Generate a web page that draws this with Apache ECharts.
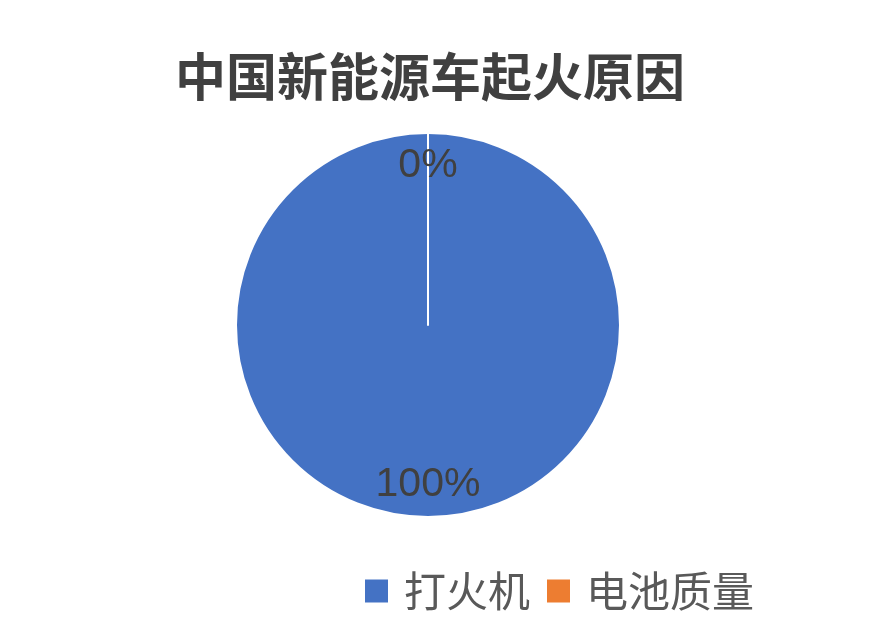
<!DOCTYPE html>
<html>
<head>
<meta charset="utf-8">
<script src="https://cdn.jsdelivr.net/npm/echarts@6/dist/echarts.min.js"></script>
<style>
html,body{margin:0;padding:0;background:#fff;}
#chart{width:872px;height:640px;}
</style>
</head>
<body>
<div id="chart"></div>
<script>
const titleText = '中国新能源车起火原因';
const categories = ['打火机', '电池质量'];
const values = [100, 0];
const colors = ['#4472C4', '#ED7D31'];

const pieData = categories.map((c, i) => ({ name: c, value: values[i], itemStyle: { color: colors[i] } }));
const labelData = categories.map((c, i) => ({ name: c, value: values[i] }));

const chart = echarts.init(document.getElementById('chart'));
chart.setOption({
  animation: false,
  backgroundColor: '#ffffff',
  title: {
    text: titleText,
    left: 175,
    top: 51,
    padding: 0,
    textStyle: {
      fontFamily: 'Noto Sans CJK SC',
      fontSize: 51,
      fontWeight: 'bold',
      color: '#404040',
      lineHeight: 51
    }
  },
  legend: {
    left: 363,
    top: 570,
    padding: 0,
    icon: 'rect',
    itemWidth: 25,
    itemHeight: 25,
    itemGap: 15,
    data: categories.map((c, i) => ({ name: c, itemStyle: { color: colors[i] } })),
    textStyle: {
      fontFamily: 'Noto Sans CJK SC',
      fontSize: 42,
      color: '#595959',
      lineHeight: 42,
      padding: [0, 0, 0, 10]
    }
  },
  series: [
    {
      type: 'pie',
      center: [428, 325],
      radius: [0, 192],
      startAngle: 90,
      clockwise: true,
      silent: true,
      label: { show: false },
      labelLine: { show: false },
      itemStyle: { borderColor: '#ffffff', borderWidth: 2 },
      data: pieData
    },
    {
      type: 'pie',
      center: [428, 325],
      radius: [122, 191],
      startAngle: 90,
      clockwise: true,
      silent: true,
      itemStyle: { color: 'rgba(0,0,0,0)', borderWidth: 0 },
      label: {
        show: true,
        position: 'inside',
        formatter: '{d}%',
        fontFamily: 'Liberation Sans',
        fontSize: 41,
        color: '#404040'
      },
      labelLine: { show: false },
      data: labelData
    }
  ]
});
</script>
</body>
</html>
